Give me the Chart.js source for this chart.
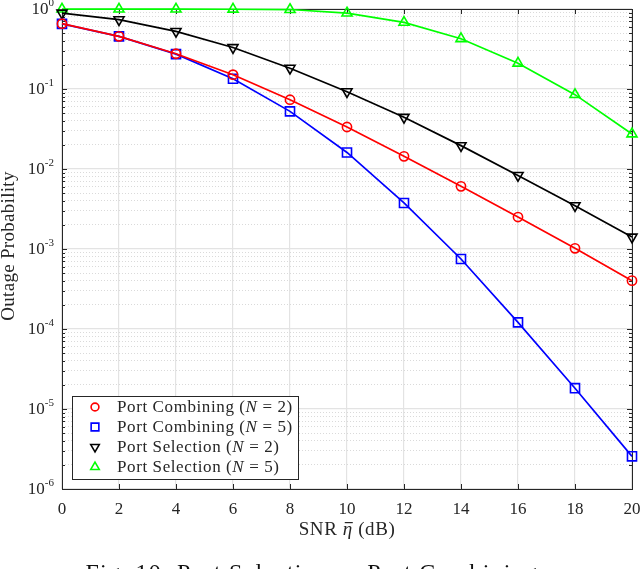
<!DOCTYPE html>
<html>
<head>
<meta charset="utf-8">
<script src="https://cdn.jsdelivr.net/npm/chart.js@4.4.1/dist/chart.umd.min.js"></script>
<style>
html, body { margin: 0; padding: 0; background: #fff; }
#myChart { display: block; }
</style>
</head>
<body>
<canvas id="myChart" width="640" height="569"></canvas>
<script>
// data
const snr = [0, 2, 4, 6, 8, 10, 12, 14, 16, 18, 20];
const combN2 = [0.655, 0.455, 0.276, 0.151, 0.0735, 0.0335, 0.0144, 0.00607, 0.00251, 0.00102, 0.000402];
const combN5 = [0.652, 0.455, 0.273, 0.1345, 0.0525, 0.0161, 0.00376, 0.00075, 0.000121, 0.0000182, 0.00000256];
const selN2 = [0.89, 0.735, 0.525, 0.33, 0.182, 0.0925, 0.0443, 0.0196, 0.0083, 0.00348, 0.00141];
const selN5 = [0.995, 0.995, 0.995, 0.993, 0.985, 0.89, 0.68, 0.425, 0.21, 0.085, 0.0274];

const seriesNames = ['Port Combining', 'Port Combining', 'Port Selection', 'Port Selection'];
const seriesN = [2, 5, 2, 5];
const seriesColors = ['#ff0000', '#0000ff', '#000000', '#00ff00'];

const xTicks = [0, 2, 4, 6, 8, 10, 12, 14, 16, 18, 20];
const yExponents = [0, -1, -2, -3, -4, -5, -6];
const yMantissas = [1, 2, 3, 4, 5, 6, 7, 8, 9];

const xTitle = ['SNR ', '\u03B7', ' (dB)'];
const yTitle = 'Outage Probability';
const captionHead = 'Fig. 10: ';
const captionBody = 'Port Selection vs Port Combining';

const SERIF = '"Liberation Serif", "Times New Roman", serif';
const AXIS = '#262626';

const isMajor = (v) => Math.abs(Math.log10(v) - Math.round(Math.log10(v))) < 1e-6;

const makeSet = (i, values, style, radius, rotation) => ({
    label: seriesNames[i] + ' (N = ' + seriesN[i] + ')',
    data: values.map((v, k) => ({x: snr[k], y: v})),
    borderColor: seriesColors[i],
    backgroundColor: 'rgba(0,0,0,0)',
    pointBorderColor: seriesColors[i],
    pointBackgroundColor: 'rgba(0,0,0,0)',
    borderWidth: 1.7,
    pointBorderWidth: 1.6,
    pointStyle: style,
    pointRadius: radius,
    pointRotation: rotation,
    tension: 0,
    clip: false
});

// text in pieces, some italic; returns end x
const drawPieces = (ctx, pieces, x, y, size, spacing) => {
    ctx.letterSpacing = spacing + 'px';
    pieces.forEach((p) => {
        ctx.font = (p[1] ? 'italic ' : '') + size + 'px ' + SERIF;
        ctx.fillText(p[0], x, y);
        x += ctx.measureText(p[0]).width;
    });
    ctx.letterSpacing = '0px';
    return x;
};
const piecesWidth = (ctx, pieces, size, spacing) => {
    ctx.letterSpacing = spacing + 'px';
    let w = 0;
    pieces.forEach((p) => {
        ctx.font = (p[1] ? 'italic ' : '') + size + 'px ' + SERIF;
        w += ctx.measureText(p[0]).width;
    });
    ctx.letterSpacing = '0px';
    return w;
};

// draws box, inward ticks, y labels, titles, legend, caption
const decor = {
    id: 'decor',
    beforeDatasetsDraw(chart) {
        const ctx = chart.ctx;
        const a = chart.chartArea;
        const xs = chart.scales.x, ys = chart.scales.y;
        ctx.save();
        ctx.strokeStyle = AXIS;
        ctx.lineWidth = 1;
        ctx.beginPath();
        xTicks.forEach((t) => {
            const px = Math.round(xs.getPixelForValue(t)) + 0.5;
            ctx.moveTo(px, a.bottom); ctx.lineTo(px, a.bottom - 5);
            ctx.moveTo(px, a.top); ctx.lineTo(px, a.top + 5);
        });
        ys.ticks.forEach((t) => {
            const py = Math.round(ys.getPixelForValue(t.value)) + 0.5;
            const len = isMajor(t.value) ? 5 : 3;
            ctx.moveTo(a.left, py); ctx.lineTo(a.left + len, py);
            ctx.moveTo(a.right, py); ctx.lineTo(a.right - len, py);
        });
        ctx.stroke();
        ctx.strokeRect(Math.round(a.left) + 0.5, Math.round(a.top) + 0.5,
            Math.round(a.right - a.left), Math.round(a.bottom - a.top));
        ctx.restore();
    },
    afterDraw(chart) {
        const ctx = chart.ctx;
        const a = chart.chartArea;
        const ys = chart.scales.y;
        ctx.save();
        ctx.fillStyle = AXIS;

        // y tick labels 10^n
        ctx.textBaseline = 'middle';
        yExponents.forEach((e) => {
            const py = ys.getPixelForValue(Math.pow(10, e));
            ctx.font = '11px ' + SERIF;
            ctx.textAlign = 'left';
            const es = String(e);
            const ew = ctx.measureText(es).width;
            const ex = a.left - 8 - ew;
            ctx.fillText(es, ex, py - 6);
            ctx.font = '17px ' + SERIF;
            ctx.textAlign = 'right';
            ctx.fillText('10', ex, py + 1);
        });

        // y title
        ctx.save();
        ctx.translate(14, (a.top + a.bottom) / 2 - 3);
        ctx.rotate(-Math.PI / 2);
        ctx.textAlign = 'center';
        ctx.textBaseline = 'alphabetic';
        ctx.font = '19px ' + SERIF;
        ctx.letterSpacing = '0.3px';
        ctx.fillText(yTitle, 0, 0);
        ctx.restore();

        // x title with italic eta and bar
        ctx.textBaseline = 'alphabetic';
        ctx.textAlign = 'left';
        const xp = [[xTitle[0], false], [xTitle[1], true], [xTitle[2], false]];
        const tw = piecesWidth(ctx, xp, 19, 0.6);
        const tx = (a.left + a.right) / 2 - tw / 2;
        drawPieces(ctx, xp, tx, 535, 19, 0.6);
        ctx.letterSpacing = '0.6px';
        ctx.font = '19px ' + SERIF;
        const etaX = tx + ctx.measureText(xTitle[0]).width;
        ctx.font = 'italic 19px ' + SERIF;
        const etaW = ctx.measureText(xTitle[1]).width;
        ctx.letterSpacing = '0px';
        ctx.fillRect(etaX + 2, 522, etaW - 2, 1.2);

        // caption (cut at page bottom)
        ctx.fillStyle = '#111';
        const capSize = 24, capSp = 1.2;
        const headW = piecesWidth(ctx, [[captionHead, false]], capSize, capSp);
        drawPieces(ctx, [[captionHead + captionBody, false]], 177 - headW, 580, capSize, capSp);

        // legend
        const lx = 72, ly = 396, lw = 226, lh = 83;
        ctx.fillStyle = '#fff';
        ctx.fillRect(lx, ly, lw, lh);
        ctx.strokeStyle = AXIS;
        ctx.lineWidth = 1;
        ctx.strokeRect(lx + 0.5, ly + 0.5, lw, lh);
        chart.data.datasets.forEach((ds, i) => {
            const y = ly + 11 + i * 20;
            ctx.strokeStyle = seriesColors[i];
            ctx.fillStyle = 'rgba(0,0,0,0)';
            ctx.lineWidth = 1.6;
            Chart.helpers.drawPoint(ctx, {
                pointStyle: ds.pointStyle,
                radius: ds.pointRadius * 0.85,
                rotation: ds.pointRotation,
                borderWidth: 1.6
            }, 95, y);
            ctx.fillStyle = AXIS;
            ctx.textBaseline = 'middle';
            ctx.textAlign = 'left';
            const segs = [[seriesNames[i] + ' (', false], ['N', true], [' = ' + seriesN[i] + ')', false]];
            drawPieces(ctx, segs, 117, y + 1, 17, 0.6);
        });
        ctx.restore();
    }
};

new Chart('myChart', {
    type: 'line',
    data: {
        datasets: [
            makeSet(0, combN2, 'circle', 4.6, 0),
            makeSet(1, combN5, 'rect', 6.4, 0),
            makeSet(2, selN2, 'triangle', 5.8, 180),
            makeSet(3, selN5, 'triangle', 5.8, 0)
        ]
    },
    options: {
        responsive: false,
        animation: false,
        layout: {padding: {left: 0, right: 8, top: 9, bottom: 0}},
        plugins: {legend: {display: false}, tooltip: {enabled: false}},
        scales: {
            x: {
                type: 'linear',
                min: 0,
                max: 20,
                afterBuildTicks: (s) => { s.ticks = xTicks.map((v) => ({value: v})); },
                afterFit: (s) => { s.height = 80; s.paddingLeft = 0; s.paddingRight = 0; },
                ticks: {
                    font: {family: SERIF, size: 17},
                    color: AXIS,
                    padding: 10,
                    maxRotation: 0
                },
                grid: {color: '#e3e3e3', lineWidth: 1.2, drawTicks: false},
                border: {display: false}
            },
            y: {
                type: 'logarithmic',
                min: 1e-6,
                max: 1,
                afterBuildTicks: (s) => {
                    const t = [];
                    yExponents.forEach((e) => {
                        yMantissas.forEach((m) => {
                            const v = m * Math.pow(10, e);
                            if (v <= 1.0000001 && v >= 1e-6 * 0.999999) t.push({value: v});
                        });
                    });
                    s.ticks = t;
                },
                afterFit: (s) => { s.width = 62; s.paddingTop = 0; s.paddingBottom = 0; },
                ticks: {display: false},
                grid: {
                    drawTicks: false,
                    color: (c) => (c.tick && isMajor(c.tick.value)) ? '#e3e3e3' : '#d0d0d0',
                    lineWidth: (c) => (c.tick && isMajor(c.tick.value)) ? 1.2 : 0.8
                },
                border: {
                    display: false,
                    dash: (c) => (c.tick && isMajor(c.tick.value)) ? [] : [1, 2]
                }
            }
        }
    },
    plugins: [decor]
});
</script>
</body>
</html>
